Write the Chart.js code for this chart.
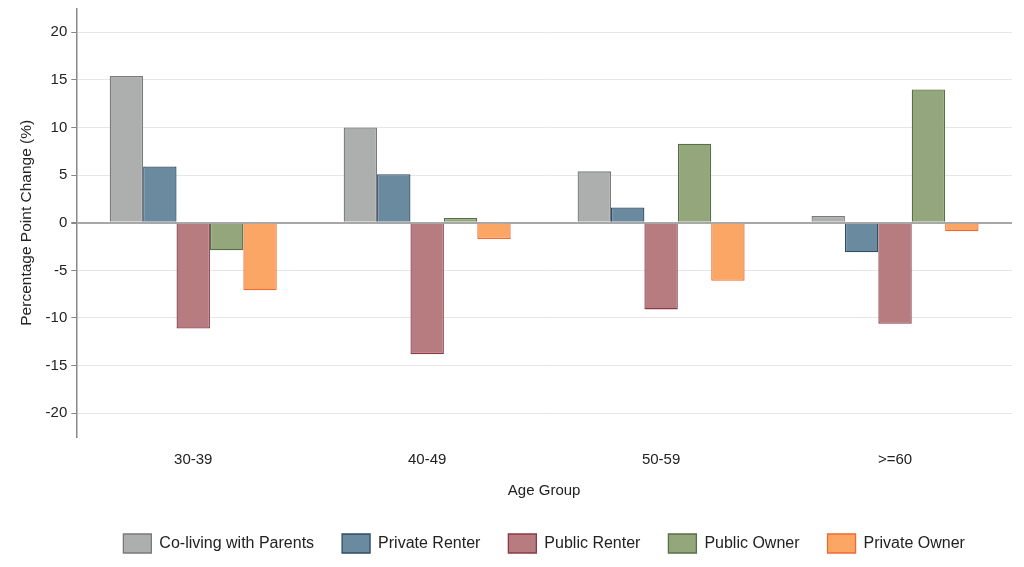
<!DOCTYPE html>
<html>
<head>
<meta charset="utf-8">
<script src="https://cdn.jsdelivr.net/npm/chart.js@4/dist/chart.umd.min.js"></script>
<style>
  html, body { margin: 0; padding: 0; background: #fff; }
  #wrap { width: 1024px; height: 567px; }
</style>
</head>
<body>
<div id="wrap"><canvas id="chart" width="1024" height="567"></canvas></div>
<script>
// categories
const ageGroups = ['30-39', '40-49', '50-59', '>=60'];

// series values (percentage point change)
const coLiving      = [15.4, 10.0, 5.4, 0.7];
const privateRenter = [5.9, 5.1, 1.6, -3.1];
const publicRenter  = [-11.1, -13.8, -9.1, -10.6];
const publicOwner   = [-2.9, 0.5, 8.3, 14.0];
const privateOwner  = [-7.1, -1.7, -6.1, -0.9];

// y tick labels
const yTicks = [-20, -15, -10, -5, 0, 5, 10, 15, 20];

const fontFamily = 'Helvetica, Arial, "Liberation Sans", sans-serif';

function series(label, data, fill, border){
    return {
        label: label,
        data: data,
        backgroundColor: fill,
        borderColor: border,
        borderWidth: 1.3,
        barPercentage: 1.0,
        categoryPercentage: 0.714
    };
}

const ctx = document.getElementById('chart');

new Chart(ctx, {
    type: 'bar',
    data: {
        labels: ageGroups,
        datasets: [
            series('Co-living with Parents', coLiving, '#adafae', '#7a7a7a'),
            series('Private Renter', privateRenter, '#6a8aa0', '#2f4b66'),
            series('Public Renter', publicRenter, '#b67c80', '#8a3a45'),
            series('Public Owner', publicOwner, '#93a67c', '#557046'),
            series('Private Owner', privateOwner, '#fca666', '#f06a30')
        ]
    },
    options: {
        responsive: false,
        animation: false,
        layout: {
            padding: { top: 0, right: 12, left: 13, bottom: 4 }
        },
        plugins: {
            tooltip: { enabled: false },
            legend: {
                position: 'bottom',
                fullSize: false,
                labels: {
                    color: '#222',
                    boxWidth: 28,
                    boxHeight: 19,
                    padding: 28,
                    font: { family: fontFamily, size: 16 }
                }
            }
        },
        scales: {
            x: {
                grid: { display: false, drawTicks: false },
                border: { display: false },
                ticks: {
                    color: '#222',
                    padding: 14,
                    font: { family: fontFamily, size: 15 }
                },
                title: {
                    display: true,
                    text: 'Age Group',
                    color: '#222',
                    padding: { top: -1, bottom: 6 },
                    font: { family: fontFamily, size: 15 }
                }
            },
            y: {
                min: -22.5,
                max: 22.5,
                afterBuildTicks: function(scale){
                    scale.ticks = yTicks.map(v => ({ value: v }));
                },
                grid: {
                    color: c => (c.tick && c.tick.value === 0) ? '#a8a8a8' : '#e6e6e6',
                    lineWidth: c => (c.tick && c.tick.value === 0) ? 2 : 1,
                    tickColor: '#888',
                    tickLength: 5
                },
                border: { display: true, color: '#888', width: 1.5 },
                ticks: {
                    color: '#222',
                    padding: 4,
                    font: { family: fontFamily, size: 15, lineHeight: 0.6 }
                },
                title: {
                    display: true,
                    text: 'Percentage Point Change (%)',
                    color: '#222',
                    padding: { bottom: 6 },
                    font: { family: fontFamily, size: 15.5 }
                }
            }
        }
    }
});
</script>
</body>
</html>
